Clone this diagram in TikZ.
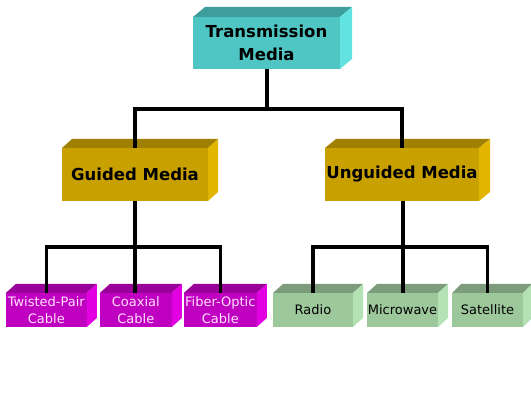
\documentclass[tikz,border=0pt]{standalone}
\usepackage{fontspec}
\setmainfont{DejaVu Sans}
\definecolor{cy-F}{RGB}{80,198,196}
\definecolor{cy-T}{RGB}{62,158,156}
\definecolor{cy-S}{RGB}{98,226,224}
\definecolor{gd-F}{RGB}{200,160,0}
\definecolor{gd-T}{RGB}{160,128,0}
\definecolor{gd-S}{RGB}{226,182,0}
\definecolor{mg-F}{RGB}{192,0,192}
\definecolor{mg-T}{RGB}{154,0,154}
\definecolor{mg-S}{RGB}{226,0,226}
\definecolor{gr-F}{RGB}{156,200,156}
\definecolor{gr-T}{RGB}{124,156,124}
\definecolor{gr-S}{RGB}{180,226,180}
\definecolor{mgtext}{RGB}{255,226,255}
\begin{document}
\begin{tikzpicture}[x=1pt,y=-1pt,
  face/.style={inner sep=0pt,outer sep=0pt,align=center},
  topbox/.style={face,fill=cy-F,font=\fontsize{16.5}{23}\selectfont\bfseries},
  midbox/.style={face,fill=gd-F,font=\fontsize{16.5}{23}\selectfont\bfseries,minimum height=53pt},
  magbox/.style={face,fill=mg-F,text=mgtext,font=\fontsize{13}{16.5}\selectfont,minimum height=34pt},
  grnbox/.style={face,fill=gr-F,font=\fontsize{13}{16.5}\selectfont,minimum height=34pt},
  link/.style={line width=3.3pt,black}]
\useasboundingbox (0,0) rectangle (531,395);
\node[topbox,minimum width=147pt,minimum height=52pt] (tm) at (266.5,43) {Transmission\\Media};
\node[midbox,minimum width=146pt] (gm) at (135,174.5) {Guided Media};
\node[midbox,minimum width=154pt] (um) at (402,174.5) {Unguided Media};
\node[magbox,minimum width=81pt] (tp) at (46.3,310) {Twisted-Pair\\Cable};
\node[magbox,minimum width=72pt] (cx) at (135.8,310) {Coaxial\\Cable};
\node[magbox,minimum width=73pt] (fo) at (220.3,310) {Fiber-Optic\\Cable};
\node[grnbox,minimum width=80pt] (ra) at (313,310) {Radio};
\node[grnbox,minimum width=71pt] (mw) at (402.5,310) {Microwave};
\node[grnbox,minimum width=71pt] (sa) at (487.5,310) {Satellite};
\foreach \n/\cc/\dx/\dy in {tm/cy/12/10,gm/gd/10/9,um/gd/11/9,tp/mg/10/9,cx/mg/10/9,fo/mg/10/9,ra/gr/10/9,mw/gr/10/9,sa/gr/9/9}{
  \fill[\cc-T] (\n.north west) -- ++(\dx,-\dy) -- ([shift={(\dx,-\dy)}]\n.north east) -- (\n.north east) -- cycle;
  \fill[\cc-S] (\n.north east) -- ++(\dx,-\dy) -- ([shift={(\dx,-\dy)}]\n.south east) -- (\n.south east) -- cycle;
}
\coordinate (j0) at (267,109);
\coordinate (j1) at (135,247);
\coordinate (j2) at (403,247);
\draw[link] (tm.south -| j0) -- (j0);
\draw[link] (gm.north) |- (j0) -| (um.north);
\draw[link] (gm.south -| j1) -- (j1);
\draw[link] (tp.north) |- (j1) -| (fo.north);
\draw[link] (j1) -- (cx.north -| j1);
\draw[link] (um.south -| j2) -- (j2);
\draw[link] (ra.north) |- (j2) -| (sa.north);
\draw[link] (j2) -- (mw.north -| j2);
\end{tikzpicture}
\end{document}
